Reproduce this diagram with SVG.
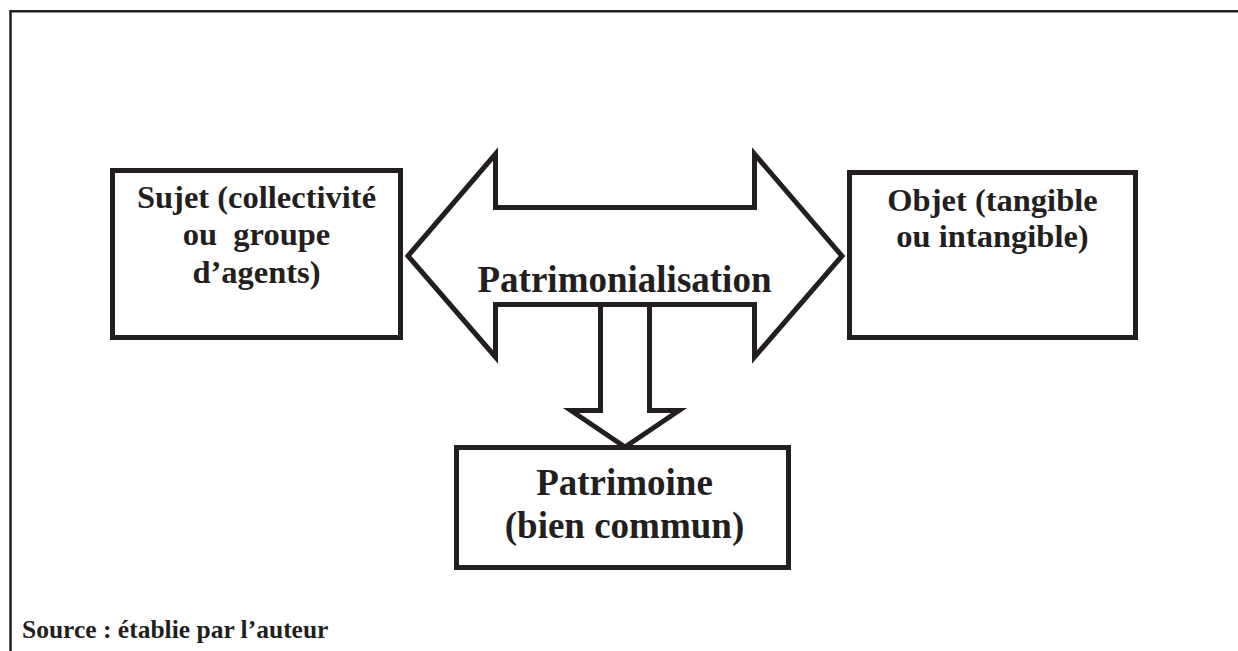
<svg xmlns="http://www.w3.org/2000/svg" width="1238" height="651" viewBox="0 0 1238 651">
<style>
.box{fill:#fff;stroke:#231f20;stroke-width:5}
.arrow{fill:#fff;stroke:#231f20;stroke-width:5;stroke-linejoin:miter;stroke-miterlimit:10}
.frame{fill:none;stroke:#231f20;stroke-width:2.5}
text{font-family:"Liberation Serif","Times New Roman",serif;font-weight:bold;fill:#231f20;text-anchor:middle;white-space:pre}
.t32{font-size:32.5px}
.t37{font-size:37px}
.src{font-size:25.5px;text-anchor:start}
</style>
<rect width="1238" height="651" fill="#fff"/>
<path class="frame" d="M1238,11.3 H10.5 V651"/>
<g id="connectors">
<polygon class="arrow" points="408,256 495.5,154 495.5,207.5 754.5,207.5 754.5,154 842,256 754.5,357 754.5,304.5 495.5,304.5 495.5,357"/>
<polygon class="arrow" points="600.5,304.5 600.5,410.5 571,410.5 625,447 679,410.5 649.5,410.5 649.5,304.5"/>
<text class="t37" x="624.5" y="292">Patrimonialisation</text>
</g>
<g id="sujet">
<rect class="box" x="112.5" y="170.5" width="288" height="167"/>
<text class="t32" x="256.5" y="208">Sujet (collectivité</text>
<text class="t32" x="256.5" y="245">ou  groupe</text>
<text class="t32" x="256.5" y="283">d’agents)</text>
</g>
<g id="objet">
<rect class="box" x="849.5" y="172.5" width="286" height="165"/>
<text class="t32" x="992.5" y="211">Objet (tangible</text>
<text class="t32" x="992.5" y="247">ou intangible)</text>
</g>
<g id="patrimoine">
<rect class="box" x="456.5" y="447.5" width="332" height="120"/>
<text class="t37" x="624.5" y="495">Patrimoine</text>
<text class="t37" x="624.5" y="538">(bien commun)</text>
</g>
<text class="src" x="22" y="638">Source : établie par l’auteur</text>
</svg>
